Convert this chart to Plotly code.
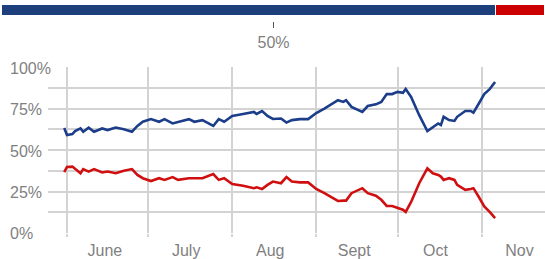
import plotly.graph_objects as go

dates = ["2008-05-31", "2008-06-01", "2008-06-03", "2008-06-04", "2008-06-06", "2008-06-07",
         "2008-06-09", "2008-06-11", "2008-06-14", "2008-06-16", "2008-06-19", "2008-06-22",
         "2008-06-25", "2008-06-27", "2008-06-29", "2008-07-02", "2008-07-05", "2008-07-07",
         "2008-07-10", "2008-07-12", "2008-07-16", "2008-07-18", "2008-07-21", "2008-07-25",
         "2008-07-27", "2008-07-29", "2008-08-01", "2008-08-05", "2008-08-09", "2008-08-10",
         "2008-08-12", "2008-08-14", "2008-08-16", "2008-08-19", "2008-08-21", "2008-08-23",
         "2008-08-26", "2008-08-29", "2008-09-01", "2008-09-04", "2008-09-09", "2008-09-11",
         "2008-09-12", "2008-09-14", "2008-09-18", "2008-09-20", "2008-09-23", "2008-09-25",
         "2008-09-27", "2008-09-29", "2008-10-01", "2008-10-03", "2008-10-04", "2008-10-06",
         "2008-10-09", "2008-10-12", "2008-10-14", "2008-10-16", "2008-10-17", "2008-10-18",
         "2008-10-20", "2008-10-22", "2008-10-23", "2008-10-26", "2008-10-28", "2008-10-29",
         "2008-10-31", "2008-11-02", "2008-11-04", "2008-11-06"]

blue_vals = [63.3, 59, 59.6, 61.4, 63, 61, 63.5, 61, 63, 62, 63.5, 62.5,
             61, 64.5, 67, 68.6, 67, 68.6, 66, 67, 68.6, 67, 68, 64.5,
             68.6, 67, 70.5, 71.7, 72.9, 71.7, 73.5, 70.5, 68.7, 69, 66.5, 68,
             68.6, 68.6, 72.3, 75, 80, 79, 80, 76, 72.9, 76.5, 77.5, 79,
             83.7, 83.7, 85, 84.5, 86.7, 82, 71, 61.4, 63.5, 66, 65, 70,
             68, 67.5, 70, 73.5, 73.5, 72.5, 78, 83.7, 86.7, 91]

red_vals = [36.7, 39.8, 40, 38.5, 36, 38.5, 37, 38.5, 36.5, 37, 36, 37.5,
            38.5, 35, 33, 31.3, 33, 32, 33.7, 32, 33, 33, 33, 35.5,
            32, 33, 29.5, 28.5, 27, 27.5, 26.5, 29, 31, 30, 33.7, 31,
            30.5, 30.5, 26.5, 24, 19.3, 19.5, 19.5, 24, 27, 24, 22.5, 20,
            16.3, 16.3, 15, 14, 12.7, 18.7, 30, 39, 36, 35, 34, 32,
            33, 32, 29, 26, 26.5, 27, 21.7, 16, 12.7, 9]

bar_vals = [91, 9]
bar_colors = ["#1d3f7c", "#cc0000"]
bar_tick_vals = [50]
bar_tick_text = ["50%"]

month_starts = ["2008-06-01", "2008-07-01", "2008-08-01", "2008-09-01", "2008-10-01", "2008-11-01"]
month_mids = ["2008-06-15", "2008-07-15", "2008-08-15", "2008-09-15", "2008-10-15", "2008-11-15"]
month_labels = ["June", "July", "Aug", "Sept", "Oct", "Nov"]

y_label_vals = [0, 25, 50, 75, 100]
y_label_text = ["0%", "25%", "50%", "75%", "100%"]

FONT = "Liberation Sans, Arial, sans-serif"
GRID = "#d3d3d3"
TXT = "#7f7f7f"

fig = go.Figure()
fig.add_trace(go.Scatter(x=dates, y=blue_vals, mode="lines",
                         line=dict(color="#1c3d8a", width=2.6), hoverinfo="skip"))
fig.add_trace(go.Scatter(x=dates, y=red_vals, mode="lines",
                         line=dict(color="#d01010", width=2.6), hoverinfo="skip"))

for v, c in zip(bar_vals, bar_colors):
    fig.add_trace(go.Bar(x=[v], y=["bar"], orientation="h", xaxis="x2", yaxis="y2",
                         marker=dict(color=c, line=dict(color="#ffffff", width=1)),
                         hoverinfo="skip"))

for v, t in zip(y_label_vals, y_label_text):
    fig.add_annotation(x=0.011, xref="paper", y=v, yref="y", text=t, showarrow=False,
                       xanchor="left", yanchor="middle", yshift=-1,
                       font=dict(family=FONT, size=16, color=TXT))

fig.update_layout(
    template="none",
    width=545, height=259,
    margin=dict(l=2, r=0, t=5, b=26, pad=0),
    paper_bgcolor="white", plot_bgcolor="white",
    showlegend=False, barmode="stack", bargap=0,
    font=dict(family=FONT, size=16, color=TXT),
    xaxis=dict(domain=[0.0847, 1], type="date", automargin=False,
               range=["2008-05-25", "2008-11-24 10:00"],
               tickvals=month_mids, ticktext=month_labels, ticks="",
               ticklabelstandoff=6,
               showgrid=False, zeroline=False, showline=False,
               tickfont=dict(family=FONT, size=16, color=TXT),
               minor=dict(tickmode="array", tickvals=month_starts, showgrid=True,
                          gridcolor=GRID, gridwidth=2, ticks="outside", ticklen=3,
                          tickwidth=2, tickcolor=GRID)),
    yaxis=dict(domain=[0, 0.728], range=[0, 100], dtick=12.5, tick0=0, automargin=False,
               showticklabels=False, showgrid=True, gridcolor=GRID, gridwidth=2,
               zeroline=False, showline=False, fixedrange=True),
    xaxis2=dict(domain=[0, 1], range=[0, 100], anchor="free", position=0.928,
                automargin=False,
                tickvals=bar_tick_vals, ticktext=bar_tick_text, ticks="outside",
                ticklen=6, tickwidth=1, tickcolor="#555555", showgrid=False,
                zeroline=False, showline=False,
                tickfont=dict(family=FONT, size=16, color=TXT)),
    yaxis2=dict(domain=[0.952, 1], anchor="x2", showticklabels=False, showgrid=False,
                zeroline=False, showline=False, automargin=False),
)

fig.write_html("out.html", config={"displayModeBar": False},
               post_script="document.body.style.margin='0';document.body.style.overflow='hidden';")
